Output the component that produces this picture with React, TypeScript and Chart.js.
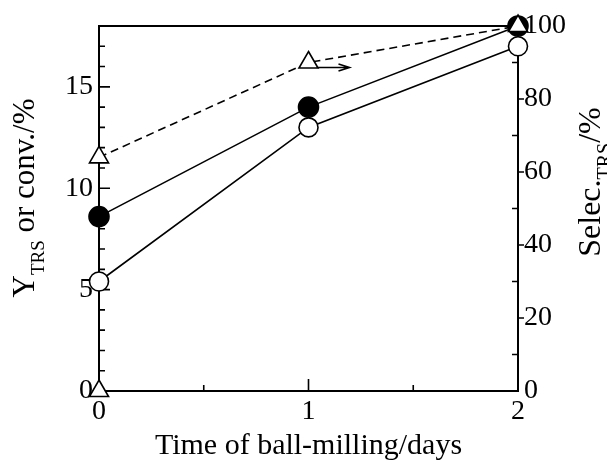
import React, { useEffect, useRef } from "react";
import { Chart, registerables } from "chart.js";

Chart.register(...registerables);

const days = [0, 1, 2];
const yieldTRS = [8.6, 14.0, 18.0];
const conversion = [5.4, 13.0, 17.0];
const selectivity = [64, 90, 100];
const zeroDay = [0];
const zeroValue = [0];

const xTicks = [0, 1, 2];
const xMinor = [0.5, 1.5];
const leftTicks = [0, 5, 10, 15];
const leftMinor = [1, 2, 3, 4, 6, 7, 8, 9, 11, 12, 13, 14, 16, 17];
const rightTicks = [0, 20, 40, 60, 80, 100];
const rightMinor = [10, 30, 50, 70, 90];

const xTitle = "Time of ball-milling/days";
const leftTitle = [
  { text: "Y", size: 31 },
  { text: "TRS", size: 19, sub: true },
  { text: " or conv./%", size: 31 },
];
const rightTitle = [
  { text: "Selec.", size: 32 },
  { text: "TRS", size: 20, sub: true },
  { text: "/%", size: 32 },
];

const FONT = "\"Liberation Serif\", \"Times New Roman\", Times, serif";

function drawRich(ctx: CanvasRenderingContext2D, parts: any[], cx: number, cy: number, subShift: number) {
  ctx.save();
  ctx.translate(cx, cy);
  ctx.rotate(-Math.PI / 2);
  ctx.textBaseline = "alphabetic";
  ctx.textAlign = "left";
  let total = 0;
  for (const p of parts) {
    ctx.font = `${p.size}px ${FONT}`;
    total += ctx.measureText(p.text).width;
  }
  let x = -total / 2;
  for (const p of parts) {
    ctx.font = `${p.size}px ${FONT}`;
    ctx.fillText(p.text, x, p.sub ? subShift : 0);
    x += ctx.measureText(p.text).width;
  }
  ctx.restore();
}

const framePlugin = {
  id: "frame",
  beforeDatasetsDraw(chart: any) {
    const { ctx, chartArea: a, scales } = chart;
    const xs = scales.x, yl = scales.yLeft, yr = scales.yRight;
    ctx.save();
    ctx.strokeStyle = "#000";
    ctx.lineWidth = 2;
    ctx.strokeRect(a.left, a.top, a.right - a.left, a.bottom - a.top);
    ctx.lineWidth = 1.6;
    ctx.beginPath();
    for (const v of leftTicks.slice(1)) {
      const y = yl.getPixelForValue(v);
      ctx.moveTo(a.left, y); ctx.lineTo(a.left + 11, y);
    }
    for (const v of leftMinor) {
      const y = yl.getPixelForValue(v);
      ctx.moveTo(a.left, y); ctx.lineTo(a.left + 6, y);
    }
    for (const v of rightTicks.slice(1, -1)) {
      const y = yr.getPixelForValue(v);
      ctx.moveTo(a.right, y); ctx.lineTo(a.right + 6, y);
    }
    for (const v of rightMinor) {
      const y = yr.getPixelForValue(v);
      ctx.moveTo(a.right, y); ctx.lineTo(a.right - 6, y);
    }
    for (const v of xTicks.slice(1, -1)) {
      const x = xs.getPixelForValue(v);
      ctx.moveTo(x, a.bottom); ctx.lineTo(x, a.bottom - 12);
    }
    for (const v of xMinor) {
      const x = xs.getPixelForValue(v);
      ctx.moveTo(x, a.bottom); ctx.lineTo(x, a.bottom - 6);
    }
    ctx.stroke();
    ctx.restore();
  },
  afterDraw(chart: any) {
    const { ctx, chartArea: a, scales } = chart;
    ctx.save();
    ctx.fillStyle = "#000";
    ctx.font = `30px ${FONT}`;
    ctx.textAlign = "center";
    ctx.textBaseline = "alphabetic";
    ctx.fillText(xTitle, (a.left + a.right) / 2, 454);
    drawRich(ctx, leftTitle, 34, 198, 10);
    drawRich(ctx, rightTitle, 600, 182, 11);
    const x0 = scales.x.getPixelForValue(days[1]) + 9;
    const y0 = scales.yRight.getPixelForValue(selectivity[1]) + 5;
    const x1 = x0 + 32;
    ctx.strokeStyle = "#000";
    ctx.lineWidth = 1.6;
    ctx.beginPath();
    ctx.moveTo(x0, y0); ctx.lineTo(x1, y0);
    ctx.moveTo(x1 - 11, y0 - 3.5); ctx.lineTo(x1, y0); ctx.lineTo(x1 - 11, y0 + 3.5);
    ctx.stroke();
    ctx.restore();
  },
};

export default function App() {
  const ref = useRef<HTMLCanvasElement>(null);
  useEffect(() => {
    let chart: any = null;
    let cancelled = false;
    const build = () => {
      if (cancelled || !ref.current) return;
      const pts = (xs: number[], ys: number[]) => xs.map((x, i) => ({ x, y: ys[i] }));
      const tickFont = { family: FONT, size: 28 };
      chart = new Chart(ref.current, {
        type: "scatter",
        data: {
          datasets: [
            {
              label: "Selec. TRS",
              data: pts(days, selectivity),
              yAxisID: "yRight",
              showLine: true,
              borderColor: "#000",
              borderWidth: 1.6,
              borderDash: [8, 5],
              pointStyle: "triangle",
              pointRadius: 11,
              pointBackgroundColor: "#fff",
              pointBorderColor: "#000",
              pointBorderWidth: 1.6,
              clip: false,
              order: 0,
            },
            {
              label: "zero",
              data: pts(zeroDay, zeroValue),
              yAxisID: "yLeft",
              showLine: false,
              pointStyle: "triangle",
              pointRadius: 11,
              pointBackgroundColor: "#fff",
              pointBorderColor: "#000",
              pointBorderWidth: 1.6,
              clip: false,
              order: 1,
            },
            {
              label: "Y TRS",
              data: pts(days, yieldTRS),
              yAxisID: "yLeft",
              showLine: true,
              borderColor: "#000",
              borderWidth: 1.6,
              pointStyle: "circle",
              pointRadius: 10,
              pointBackgroundColor: "#000",
              pointBorderColor: "#000",
              pointBorderWidth: 1.6,
              clip: false,
              order: 2,
            },
            {
              label: "conv.",
              data: pts(days, conversion),
              yAxisID: "yLeft",
              showLine: true,
              borderColor: "#000",
              borderWidth: 1.6,
              pointStyle: "circle",
              pointRadius: 9.5,
              pointBackgroundColor: "#fff",
              pointBorderColor: "#000",
              pointBorderWidth: 1.6,
              clip: false,
              order: 3,
            },
          ],
        },
        options: {
          animation: false,
          responsive: true,
          maintainAspectRatio: false,
          layout: { padding: { top: 26, left: 0, right: 0, bottom: 0 } },
          plugins: { legend: { display: false }, tooltip: { enabled: false } },
          scales: {
            x: {
              type: "linear",
              min: 0,
              max: 2,
              grid: { display: false, drawTicks: false, tickLength: 0 },
              border: { display: false },
              afterBuildTicks: (s: any) => { s.ticks = xTicks.map((v) => ({ value: v })); },
              afterFit: (s: any) => { s.height = 72; },
              ticks: { color: "#000", font: tickFont, padding: 4, maxRotation: 0, autoSkip: false },
            },
            yLeft: {
              type: "linear",
              position: "left",
              min: 0,
              max: 18,
              grid: { display: false, drawTicks: false, tickLength: 0 },
              border: { display: false },
              afterBuildTicks: (s: any) => { s.ticks = leftTicks.map((v) => ({ value: v })); },
              afterFit: (s: any) => { s.width = 99; },
              ticks: { color: "#000", font: tickFont, padding: 6, autoSkip: false },
            },
            yRight: {
              type: "linear",
              position: "right",
              min: 0,
              max: 100,
              grid: { display: false, drawTicks: false, tickLength: 0 },
              border: { display: false },
              afterBuildTicks: (s: any) => { s.ticks = rightTicks.map((v) => ({ value: v })); },
              afterFit: (s: any) => { s.width = 89; },
              ticks: { color: "#000", font: tickFont, padding: 6, autoSkip: false },
            },
          },
        },
        plugins: [framePlugin],
      });
    };
    const fonts: any = (document as any).fonts;
    if (fonts && fonts.load) {
      Promise.all([
        fonts.load('28px "Liberation Serif"'),
        fonts.load('18px "Liberation Serif"'),
      ]).then(build, build);
    } else {
      build();
    }
    return () => {
      cancelled = true;
      if (chart) chart.destroy();
    };
  }, []);
  return (
    <div style={{ position: "absolute", left: 0, top: 0, width: 607, height: 463, background: "#fff" }}>
      <canvas ref={ref} />
    </div>
  );
}
